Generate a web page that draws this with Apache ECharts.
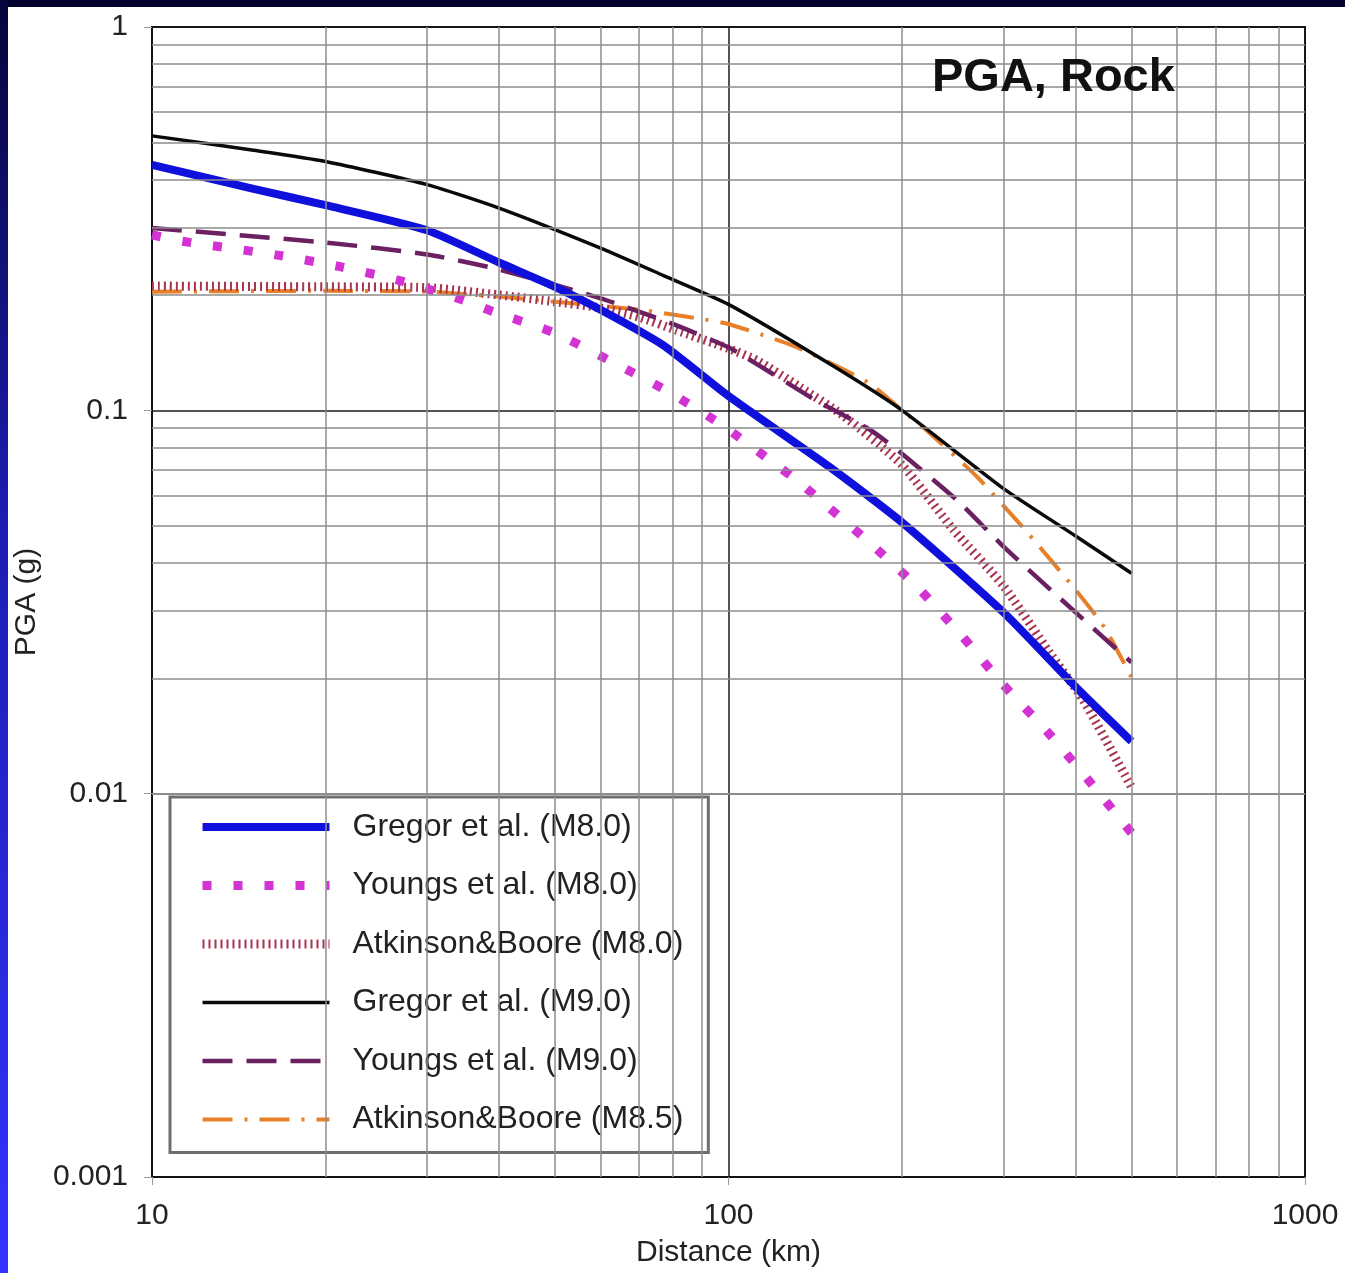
<!DOCTYPE html>
<html>
<head>
<meta charset="utf-8">
<script src="https://cdn.jsdelivr.net/npm/echarts@6/dist/echarts.min.js"></script>
<style>
  html, body { margin: 0; padding: 0; background: #03032e; }
  #wrap { position: relative; width: 1345px; height: 1273px; overflow: hidden; background: #03032e; }
  #leftbar { position: absolute; left: 0; top: 0; width: 8px; height: 1273px;
             background: linear-gradient(to bottom, #05053a 0%, #1c1cb0 40%, #3333ff 100%); }
  #paper { position: absolute; left: 8px; top: 7px; width: 1337px; height: 1266px; background: #ffffff; }
  #chart { position: absolute; left: 0; top: 0; width: 1345px; height: 1273px; }
</style>
</head>
<body>
<div id="wrap">
  <div id="leftbar"></div>
  <div id="paper"></div>
  <div id="chart"></div>
</div>
<script>
// ---- Data (distance in km, PGA in g) ----
const seriesNames = [
  'Gregor et al. (M8.0)',
  'Youngs et al. (M8.0)',
  'Atkinson&Boore (M8.0)',
  'Gregor et al. (M9.0)',
  'Youngs et al. (M9.0)',
  'Atkinson&Boore (M8.5)'
];

const gregorM8Dist = [10, 15, 20, 30, 40, 50, 60, 77, 100, 150, 200, 300, 400, 500];
const gregorM8Pga  = [0.437, 0.378, 0.343, 0.295, 0.243, 0.21, 0.183, 0.148, 0.109, 0.071, 0.051, 0.0297, 0.019, 0.0137];

const youngsM8Dist = [10, 11.3, 16.4, 21.2, 27.2, 34.6, 39, 50, 62.7, 78.5, 97.2, 119.5, 132, 177, 213, 254, 299, 356, 420, 500];
const youngsM8Pga  = [0.287, 0.276, 0.2545, 0.237, 0.217, 0.194, 0.181, 0.159, 0.134, 0.112, 0.0918, 0.0731, 0.0653, 0.0447, 0.0345, 0.0258, 0.0193, 0.0146, 0.0109, 0.0079];

const atkinsonM8Dist = [10, 20, 30, 40, 50, 60, 70, 81, 100, 112, 133, 158, 200, 245, 300, 360, 412, 500];
const atkinsonM8Pga  = [0.211, 0.21, 0.209, 0.2, 0.192, 0.185, 0.175, 0.162, 0.145, 0.135, 0.115, 0.097, 0.072, 0.049, 0.0348, 0.0234, 0.0176, 0.0104];

const gregorM9Dist = [10, 15, 20, 30, 40, 60, 77, 100, 150, 200, 300, 400, 500];
const gregorM9Pga  = [0.52, 0.477, 0.446, 0.388, 0.337, 0.265, 0.225, 0.189, 0.132, 0.1, 0.0625, 0.047, 0.0376];

const youngsM9Dist = [10, 20, 30, 40, 60, 80, 100, 112, 142, 176, 200, 250, 300, 400, 500];
const youngsM9Pga  = [0.299, 0.274, 0.255, 0.233, 0.196, 0.168, 0.146, 0.132, 0.106, 0.089, 0.077, 0.058, 0.0441, 0.0297, 0.022];

const atkinsonM85Dist = [10, 20, 30, 40, 50, 70, 90, 100, 130, 175, 200, 220, 270, 330, 400, 450, 500];
const atkinsonM85Pga  = [0.204, 0.205, 0.204, 0.198, 0.192, 0.183, 0.173, 0.168, 0.147, 0.118, 0.1, 0.089, 0.067, 0.048, 0.034, 0.027, 0.0201];

// minor grid positions (log decades 2..9)
const xMinorTicks = [20, 30, 40, 50, 60, 70, 80, 90, 200, 300, 400, 500, 600, 700, 800, 900];
const yMinorTicks = [0.002, 0.003, 0.004, 0.005, 0.006, 0.007, 0.008, 0.009,
                     0.02, 0.03, 0.04, 0.05, 0.06, 0.07, 0.08, 0.09,
                     0.2, 0.3, 0.4, 0.5, 0.6, 0.7, 0.8, 0.9];

function pairs(xs, ys) { return xs.map((x, i) => [x, ys[i]]); }

const FONT = '"Liberation Sans", Arial, Helvetica, sans-serif';

const chart = echarts.init(document.getElementById('chart'), null, { renderer: 'canvas' });

const minorLines = [];
xMinorTicks.forEach(v => minorLines.push({ xAxis: v }));
yMinorTicks.forEach(v => minorLines.push({ yAxis: v }));

function lineSeries(name, xs, ys, color, width, type, z) {
  return {
    name: name, type: 'line', z: z, symbol: 'none', showSymbol: false,
    smooth: 0.2,
    data: pairs(xs, ys),
    lineStyle: { color: color, width: width, type: type, cap: 'butt' },
    itemStyle: { color: color }
  };
}

const option = {
  backgroundColor: 'transparent',
  animation: false,
  textStyle: { fontFamily: FONT },
  title: {
    text: 'PGA, Rock',
    left: 927, top: 50,
    textStyle: { fontFamily: FONT, fontWeight: 'bold', fontSize: 47, color: '#111' }
  },
  grid: {
    left: 152, top: 27, right: 40, bottom: 95,
    show: true, borderColor: '#111', borderWidth: 2, backgroundColor: 'transparent'
  },
  legend: {
    data: seriesNames,
    orient: 'vertical',
    left: 170, top: 797,
    backgroundColor: '#ffffff',
    borderColor: '#6e6e6e', borderWidth: 3, borderRadius: 0,
    padding: [14, 25, 17, 28],
    itemWidth: 127, itemHeight: 30, itemGap: 26.5,
    selectedMode: false,
    itemStyle: { opacity: 0, color: 'transparent', borderWidth: 0, borderColor: 'transparent' },
    lineStyle: { width: 'inherit', type: 'inherit', opacity: 1 },
    textStyle: { fontFamily: FONT, fontSize: 32, color: '#222', lineHeight: 32, padding: [0, 0, 0, 18] }
  },
  xAxis: {
    type: 'log', logBase: 10, min: 10, max: 1000,
    name: 'Distance (km)', nameLocation: 'middle', nameGap: 61,
    nameTextStyle: { fontFamily: FONT, fontSize: 30, color: '#222' },
    axisLine: { show: true, lineStyle: { color: '#111', width: 2 } },
    axisTick: { show: true, length: 8, lineStyle: { color: '#999' } },
    axisLabel: { fontFamily: FONT, fontSize: 30, color: '#222', margin: 24,
                 formatter: v => String(Math.round(v)) },
    splitLine: { show: true, lineStyle: { color: '#1a1a1a', width: 1.5 } },
    minorTick: { show: false }, minorSplitLine: { show: false }
  },
  yAxis: {
    type: 'log', logBase: 10, min: 0.001, max: 1,
    name: 'PGA (g)', nameLocation: 'middle', nameGap: 104, nameRotate: 90,
    nameTextStyle: { fontFamily: FONT, fontSize: 30, color: '#222' },
    axisLine: { show: true, lineStyle: { color: '#111', width: 2 } },
    axisTick: { show: true, length: 8, lineStyle: { color: '#999' } },
    axisLabel: { fontFamily: FONT, fontSize: 30, color: '#222', margin: 24,
                 formatter: v => String(+(+v).toPrecision(3)) },
    splitLine: { show: true, lineStyle: { color: '#1a1a1a', width: 1.5 } }
  },
  series: [
    {
      name: '__grid', type: 'line', data: [], z: 1, silent: true, symbol: 'none',
      markLine: {
        silent: true, symbol: 'none', animation: false,
        label: { show: false },
        lineStyle: { color: '#8c8c8c', width: 1.5, type: 'solid' },
        emphasis: { disabled: true },
        data: minorLines
      }
    },
    lineSeries(seriesNames[3], gregorM9Dist, gregorM9Pga, '#0a0a0a', 3.5, 'solid', 3),
    lineSeries(seriesNames[5], atkinsonM85Dist, atkinsonM85Pga, '#e8802a', 4, [30, 12, 3, 12], 2),
    lineSeries(seriesNames[2], atkinsonM8Dist, atkinsonM8Pga, '#a8344f', 9, [2, 4], 2),
    lineSeries(seriesNames[4], youngsM9Dist, youngsM9Pga, '#6b2062', 4.5, [30, 14], 3),
    lineSeries(seriesNames[1], youngsM8Dist, youngsM8Pga, '#d233d2', 9, [9, 22], 3),
    lineSeries(seriesNames[0], gregorM8Dist, gregorM8Pga, '#1010dd', 8, 'solid', 4)
  ]
};

chart.setOption(option);
</script>
</body>
</html>
